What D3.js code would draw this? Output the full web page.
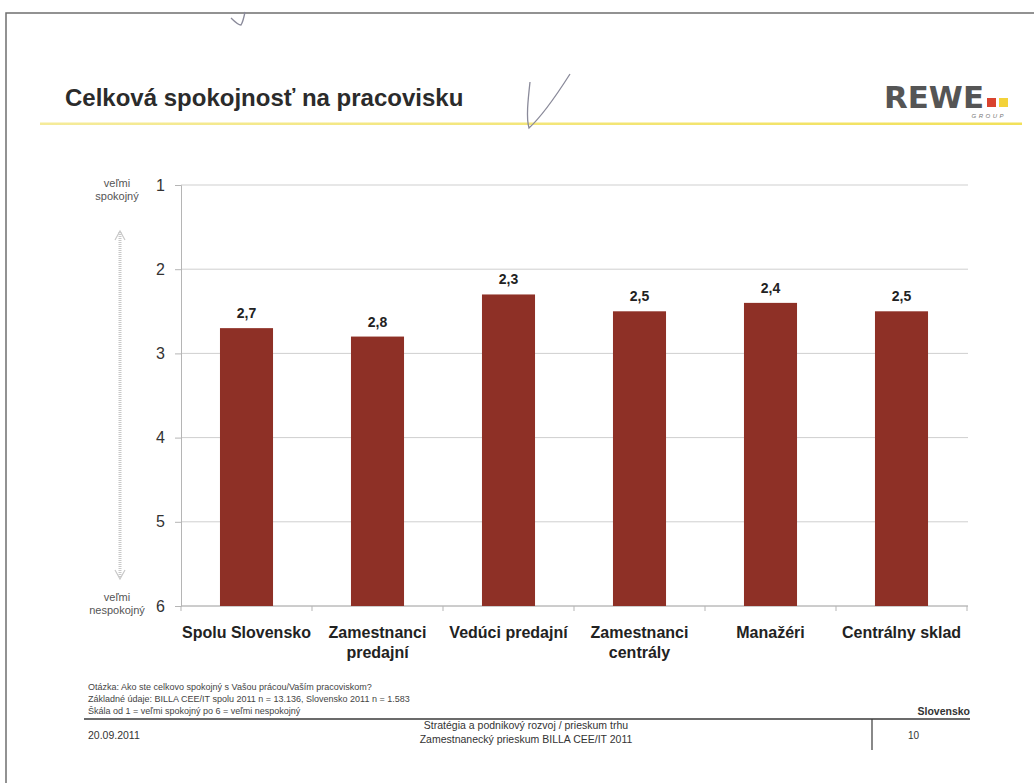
<!DOCTYPE html>
<html>
<head>
<meta charset="utf-8">
<script src="https://cdn.jsdelivr.net/npm/d3@7"></script>
<style>
  html, body { margin: 0; padding: 0; background: #fff; }
  svg { display: block; font-family: "Liberation Sans", Arial, sans-serif; }
</style>
</head>
<body>
<svg id="page" width="1034" height="783"></svg>
<script>
// Survey groups and their mean satisfaction score (1 = very satisfied, 6 = very dissatisfied)
const categories = [
  ["Spolu Slovensko"],
  ["Zamestnanci", "predajní"],
  ["Vedúci predajní"],
  ["Zamestnanci", "centrály"],
  ["Manažéri"],
  ["Centrálny sklad"]
];
const scores = [2.7, 2.8, 2.3, 2.5, 2.4, 2.5];
const yTicks = [1, 2, 3, 4, 5, 6];
const topLabel = ["veľmi", "spokojný"];
const bottomLabel = ["veľmi", "nespokojný"];
const notes = [
  "Otázka: Ako ste celkovo spokojný s Vašou prácou/Vaším pracoviskom?",
  "Základné údaje: BILLA CEE/IT spolu 2011 n = 13.136, Slovensko 2011 n = 1.583",
  "Škála od 1 = veľmi spokojný po 6 = veľmi nespokojný"
];
const footerCenter = ["Stratégia a podnikový rozvoj / prieskum trhu", "Zamestnanecký prieskum BILLA CEE/IT 2011"];

const svg = d3.select("#page");
const fmt = v => d3.format(".1f")(v).replace(".", ",");

// page frame
svg.append("path")
  .attr("d", "M6,790 V13 H1040")
  .attr("fill", "none").attr("stroke", "#6f6f6f").attr("stroke-width", 1.5);

// header
svg.append("text").attr("x", 65).attr("y", 106)
  .attr("font-size", 24).attr("font-weight", "bold").attr("fill", "#2b2b2b")
  .text("Celková spokojnosť na pracovisku");
const glow = svg.append("defs").append("linearGradient").attr("id", "rule");
glow.append("stop").attr("offset", "0").attr("stop-color", "#f5eb9a");
glow.append("stop").attr("offset", "1").attr("stop-color", "#f2e15a");
svg.append("rect").attr("x", 40).attr("y", 122.5).attr("width", 982).attr("height", 2.5)
  .attr("fill", "url(#rule)");

// logo
const logo = svg.append("g");
logo.append("text").attr("x", 884).attr("y", 108)
  .attr("font-size", 30).attr("font-weight", "bold").attr("fill", "#555")
  .attr("font-family", "'Liberation Sans Narrow', 'DejaVu Sans Condensed', Arial, sans-serif")
  .attr("textLength", 100).attr("lengthAdjust", "spacingAndGlyphs")
  .text("REWE");
logo.append("rect").attr("x", 987).attr("y", 98).attr("width", 9).attr("height", 9).attr("fill", "#d9432f");
logo.append("rect").attr("x", 999).attr("y", 98).attr("width", 9).attr("height", 9).attr("fill", "#f3d23a");
logo.append("text").attr("x", 1006).attr("y", 118).attr("text-anchor", "end")
  .attr("font-size", 6).attr("font-style", "italic").attr("letter-spacing", 2.5).attr("fill", "#777")
  .text("GROUP");

// pen marks
svg.append("path").attr("d", "M530,82 C528,100 526,118 529,128 C540,118 556,96 570,74")
  .attr("fill", "none").attr("stroke", "#8a8a9a").attr("stroke-width", 1.3);
svg.append("path").attr("d", "M231,18 C235,22 238,25 241,25 C243,22 244,17 245,12")
  .attr("fill", "none").attr("stroke", "#8a8a9a").attr("stroke-width", 1.3);

// chart area
const x = d3.scaleBand().domain(d3.range(categories.length)).range([181, 967]).paddingInner(0.595).paddingOuter(0.2975);
const y = d3.scaleLinear().domain([1, 6]).range([185, 606]);

const plot = svg.append("g");

// horizontal gridlines
plot.selectAll("line.grid").data(yTicks).join("line")
  .attr("class", "grid")
  .attr("x1", 181).attr("x2", 968)
  .attr("y1", d => y(d)).attr("y2", d => y(d))
  .attr("stroke", d => d === 6 ? "#9a9a9a" : "#cfcfcf").attr("stroke-width", 1);

// y axis
const yAxis = d3.axisLeft(y).tickValues(yTicks).tickSize(6).tickPadding(10).tickFormat(d3.format("d"));
const ya = plot.append("g").attr("transform", "translate(181,0)").call(yAxis);
ya.select(".domain").attr("stroke", "#b5b5b5");
ya.selectAll(".tick line").attr("stroke", "#b5b5b5");
ya.selectAll(".tick text").attr("font-size", 16).attr("fill", "#333").attr("font-family", "'Liberation Sans', Arial, sans-serif");

// category separators along the baseline
const step = x.step();
const edge0 = x(0) - x.paddingOuter() * step;
plot.selectAll("line.sep").data(d3.range(categories.length + 1)).join("line")
  .attr("class", "sep")
  .attr("x1", i => edge0 + step * i).attr("x2", i => edge0 + step * i)
  .attr("y1", 606).attr("y2", 611).attr("stroke", "#b5b5b5");

// bars
plot.selectAll("rect.bar").data(scores).join("rect")
  .attr("class", "bar")
  .attr("x", (d, i) => x(i)).attr("width", x.bandwidth())
  .attr("y", d => y(d)).attr("height", d => y(6) - y(d))
  .attr("fill", "#8e3026");

// value labels
plot.selectAll("text.val").data(scores).join("text")
  .attr("class", "val")
  .attr("x", (d, i) => x(i) + x.bandwidth() / 2).attr("y", d => y(d) - 10)
  .attr("text-anchor", "middle").attr("font-size", 14).attr("font-weight", "bold").attr("fill", "#222")
  .text(d => fmt(d));

// category labels
const cat = plot.selectAll("text.cat").data(categories).join("text")
  .attr("class", "cat")
  .attr("x", (d, i) => x(i) + x.bandwidth() / 2).attr("y", 638)
  .attr("text-anchor", "middle").attr("font-size", 16).attr("font-weight", "bold").attr("fill", "#222");
cat.each(function(lines) {
  const t = d3.select(this), cx = t.attr("x");
  lines.forEach((l, j) => t.append("tspan").attr("x", cx).attr("dy", j ? 20 : 0).text(l));
});

// scale end captions
function caption(lines, yTop) {
  const t = svg.append("text").attr("x", 117).attr("y", yTop)
    .attr("text-anchor", "middle").attr("font-size", 11).attr("fill", "#555");
  lines.forEach((l, j) => t.append("tspan").attr("x", 117).attr("dy", j ? 13 : 0).text(l));
}
caption(topLabel, 187);
caption(bottomLabel, 601);

// scale direction arrow
const arrow = svg.append("g").attr("stroke", "#c8c8c8").attr("fill", "none");
arrow.append("line").attr("x1", 120).attr("x2", 120).attr("y1", 232).attr("y2", 578)
  .attr("stroke-width", 3).attr("stroke-dasharray", "1 1");
arrow.append("path").attr("d", "M115,240 L120,231 L125,240").attr("stroke-width", 1.2);
arrow.append("path").attr("d", "M115,570 L120,579 L125,570").attr("stroke-width", 1.2);

// footer notes
const fn = svg.append("g").attr("font-size", 9).attr("fill", "#444");
notes.forEach((n, i) => fn.append("text").attr("x", 88).attr("y", 690 + i * 12).text(n));
svg.append("line").attr("x1", 84).attr("x2", 970).attr("y1", 719).attr("y2", 719)
  .attr("stroke", "#3a3a3a").attr("stroke-width", 1.5);
svg.append("line").attr("x1", 872).attr("x2", 872).attr("y1", 719).attr("y2", 750)
  .attr("stroke", "#3a3a3a").attr("stroke-width", 1.2);
svg.append("text").attr("x", 970).attr("y", 715).attr("text-anchor", "end")
  .attr("font-size", 10.5).attr("font-weight", "bold").attr("fill", "#333").text("Slovensko");
svg.append("text").attr("x", 88).attr("y", 739).attr("font-size", 10.5).attr("fill", "#333").text("20.09.2011");
svg.append("text").attr("x", 908).attr("y", 739).attr("font-size", 10).attr("fill", "#333").text("10");
const fc = svg.append("text").attr("x", 526).attr("y", 729).attr("text-anchor", "middle")
  .attr("font-size", 10.5).attr("fill", "#333");
footerCenter.forEach((l, j) => fc.append("tspan").attr("x", 526).attr("dy", j ? 14 : 0).text(l));
</script>
</body>
</html>
